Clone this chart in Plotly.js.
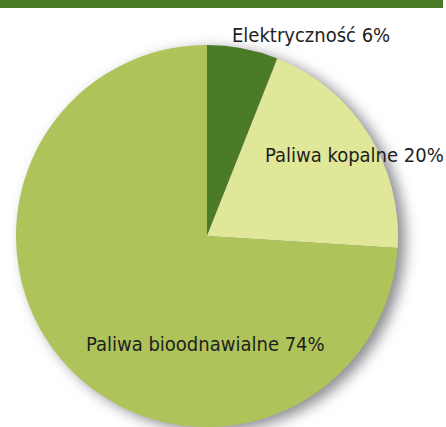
<!DOCTYPE html>
<html>
<head>
<meta charset="utf-8">
<script src="https://cdn.plot.ly/plotly-3.0.1.min.js"></script>
<style>
html,body{margin:0;padding:0;background:#fff;}
#chart{width:446px;height:427px;}
.pielayer{filter:drop-shadow(7px 4px 7px rgba(60,60,70,0.6));}
</style>
</head>
<body>
<div id="chart"></div>
<script>
const categories = ["Elektryczność", "Paliwa kopalne", "Paliwa bioodnawialne"];
const values = [6, 20, 74];
const colors = ["#4b7b27", "#e0e799", "#aec45a"];
const labelText = categories.map((c, i) => c + " " + values[i] + "%");
const labelPos = [[311/446, 1 - 35/427], [354/446, 1 - 155/427], [205/446, 1 - 344/427]];

const font = "'DejaVu Sans Condensed', 'Liberation Sans Narrow', sans-serif";

const trace = {
  type: "pie",
  labels: categories,
  values: values,
  sort: false,
  direction: "clockwise",
  rotation: 0,
  marker: {colors: colors, line: {width: 0}},
  textinfo: "none",
  hoverinfo: "none",
  showlegend: false,
  domain: {x: [16/446, 398/446], y: [0, 382/427]}
};

const layout = {
  width: 446, height: 427,
  margin: {l: 0, r: 0, t: 0, b: 0},
  paper_bgcolor: "#ffffff",
  shapes: [{type: "rect", xref: "paper", yref: "paper", x0: 0, x1: 443/446, y0: 1 - 8/427, y1: 1.01,
            fillcolor: "#4a7a25", line: {width: 0}, layer: "below"}],
  annotations: labelText.map((t, i) => ({
    text: t, xref: "paper", yref: "paper", x: labelPos[i][0], y: labelPos[i][1],
    xanchor: "center", yanchor: "middle", showarrow: false,
    font: {family: font, size: 20, color: "#1e1e1e"}
  }))
};

Plotly.newPlot("chart", [trace], layout, {displayModeBar: false, staticPlot: true});
</script>
</body>
</html>
